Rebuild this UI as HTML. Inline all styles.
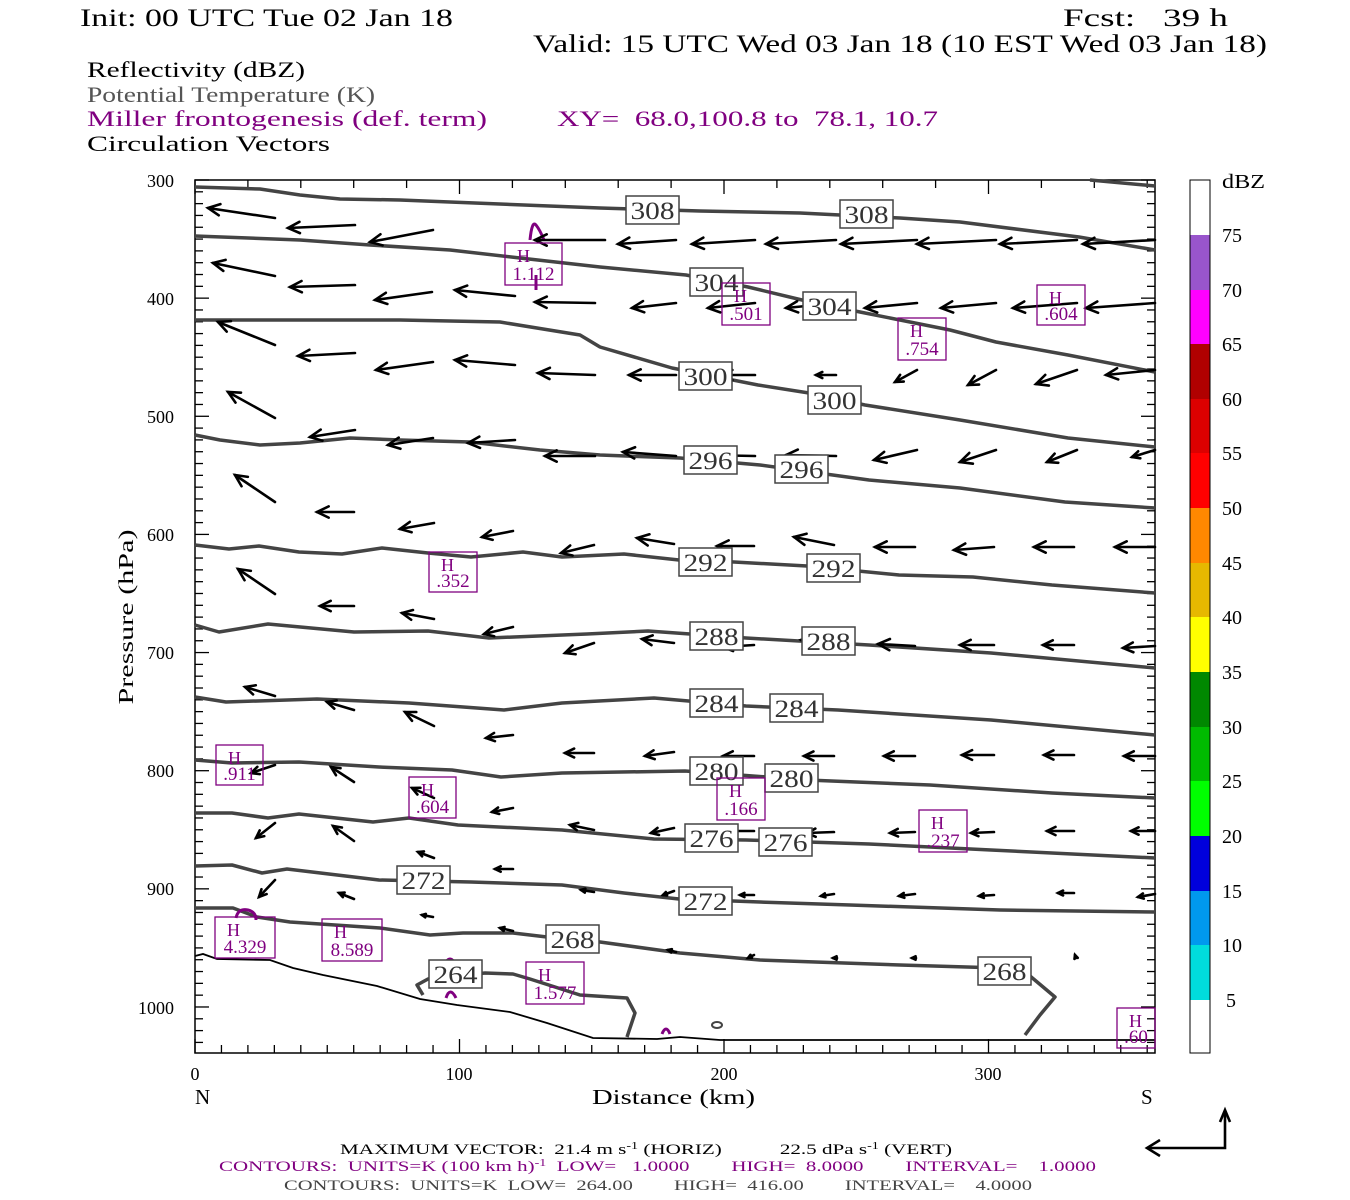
<!DOCTYPE html>
<html><head><meta charset="utf-8"><style>
body{margin:0;background:#fff;}
svg{display:block;font-family:"Liberation Serif",serif;}
</style></head><body>
<svg id="s" width="1350" height="1200" viewBox="0 0 1350 1200" xmlns="http://www.w3.org/2000/svg">
<rect width="1350" height="1200" fill="#fff"/>
<g font-size="25" fill="#000">
<text x="80" y="26" textLength="373" lengthAdjust="spacingAndGlyphs">Init: 00 UTC Tue 02 Jan 18</text>
<text x="1063" y="26" textLength="165" lengthAdjust="spacingAndGlyphs">Fcst:&#160;&#160;&#160;39 h</text>
<text x="533" y="52" textLength="734" lengthAdjust="spacingAndGlyphs">Valid: 15 UTC Wed 03 Jan 18 (10 EST Wed 03 Jan 18)</text>
</g>
<g font-size="22">
<text x="87" y="77" textLength="218" lengthAdjust="spacingAndGlyphs">Reflectivity (dBZ)</text>
<text x="87" y="102" fill="#555" textLength="288" lengthAdjust="spacingAndGlyphs">Potential Temperature (K)</text>
<text x="87" y="126" fill="#800080" textLength="400" lengthAdjust="spacingAndGlyphs">Miller frontogenesis (def. term)</text>
<text x="557" y="126" fill="#800080" textLength="381" lengthAdjust="spacingAndGlyphs">XY=&#160;&#160;68.0,100.8 to&#160;&#160;78.1, 10.7</text>
<text x="87" y="151" textLength="243" lengthAdjust="spacingAndGlyphs">Circulation Vectors</text>
</g>
<!-- colorbar -->
<g stroke="none">
<rect x="1190" y="180" width="20" height="55" fill="#fff"/>
<rect x="1190" y="235" width="20" height="55" fill="#9955cc"/>
<rect x="1190" y="290" width="20" height="54" fill="#ff00ff"/>
<rect x="1190" y="344" width="20" height="55" fill="#b00000"/>
<rect x="1190" y="399" width="20" height="54" fill="#dd0000"/>
<rect x="1190" y="453" width="20" height="55" fill="#ff0000"/>
<rect x="1190" y="508" width="20" height="55" fill="#ff8800"/>
<rect x="1190" y="563" width="20" height="54" fill="#e6b800"/>
<rect x="1190" y="617" width="20" height="55" fill="#ffff00"/>
<rect x="1190" y="672" width="20" height="55" fill="#008800"/>
<rect x="1190" y="727" width="20" height="54" fill="#00bb00"/>
<rect x="1190" y="781" width="20" height="55" fill="#00ff00"/>
<rect x="1190" y="836" width="20" height="55" fill="#0000dd"/>
<rect x="1190" y="891" width="20" height="54" fill="#0099ee"/>
<rect x="1190" y="945" width="20" height="55" fill="#00dddd"/>
<rect x="1190" y="1000" width="20" height="53" fill="#fff"/>
<rect x="1190" y="180" width="20" height="873" fill="none" stroke="#000" stroke-width="1"/>
</g>
<g font-size="20" fill="#000">
<text x="1222" y="188" textLength="43" lengthAdjust="spacingAndGlyphs">dBZ</text>
<text x="1222" y="242">75</text><text x="1222" y="297">70</text><text x="1222" y="351">65</text>
<text x="1222" y="406">60</text><text x="1222" y="460">55</text><text x="1222" y="515">50</text>
<text x="1222" y="570">45</text><text x="1222" y="624">40</text><text x="1222" y="679">35</text>
<text x="1222" y="734">30</text><text x="1222" y="788">25</text><text x="1222" y="843">20</text>
<text x="1222" y="898">15</text><text x="1222" y="952">10</text><text x="1226" y="1007">5</text>
</g>
<!-- axes -->
<g id="ticks" stroke="#000" stroke-width="1.3"></g>
<rect x="195" y="180" width="960" height="873" fill="none" stroke="#000" stroke-width="1.5"/>
<g font-size="18" text-anchor="end">
<text x="174" y="187">300</text><text x="174" y="305">400</text><text x="174" y="423">500</text>
<text x="174" y="541">600</text><text x="174" y="659">700</text><text x="174" y="777">800</text>
<text x="174" y="895">900</text><text x="174" y="1014">1000</text>
</g>
<text x="133" y="617" font-size="21" text-anchor="middle" transform="rotate(-90 133 617)" textLength="175" lengthAdjust="spacingAndGlyphs">Pressure (hPa)</text>
<g font-size="18" text-anchor="middle">
<text x="195" y="1080">0</text><text x="459" y="1080">100</text><text x="724" y="1080">200</text><text x="988" y="1080">300</text>
</g>
<g font-size="21">
<text x="195" y="1104">N</text><text x="1141" y="1104">S</text>
<text x="592" y="1104" textLength="163" lengthAdjust="spacingAndGlyphs">Distance (km)</text>
</g>
<!-- contours -->
<g fill="none" stroke="#444" stroke-width="3.5" stroke-linejoin="round">
<polyline points="195,187 260,189 300,195 340,199 400,200 600,208 700,211 800,213 900,218 960,222 1079,237 1155,250"/>
<polyline points="1090,180 1155,186"/>
<polyline points="195,236 300,240 370,245 450,250 520,258 600,267 686,275 748,287 802,300 860,312 950,330 996,342 1068,355 1155,372"/>
<polyline points="195,320 300,320 400,320 500,322 580,335 600,347 672,368 758,385 809,393 865,405 960,420 1068,438 1155,447"/>
<polyline points="195,435 220,440 260,445 300,443 350,438 400,440 470,442 540,450 600,455 680,458 760,465 869,480 960,488 1065,502 1155,508"/>
<polyline points="195,545 229,549 259,546 299,552 342,554 382,548 428,553 471,557 523,552 562,557 624,554 679,560 734,562 807,566 899,575 973,577 1052,585 1155,593"/>
<polyline points="195,625 219,632 268,624 354,632 428,631 489,638 587,634 648,631 746,638 869,645 991,653 1155,668"/>
<polyline points="195,697 226,702 317,699 409,703 504,710 562,703 654,698 746,706 838,710 991,720 1155,735"/>
<polyline points="195,760 232,763 299,762 379,767 452,770 501,777 562,773 685,771 807,780 930,785 1052,793 1155,798"/>
<polyline points="195,813 232,813 268,818 299,814 373,822 409,818 458,825 562,830 654,839 746,840 869,844 991,850 1155,858"/>
<polyline points="195,866 232,865 262,873 287,869 379,880 471,882 562,885 624,893 679,899 760,902 850,905 1000,910 1155,912"/>
<polyline points="195,908 233,908 257,917 290,922 380,928 430,935 463,933 513,933 547,937 600,942 680,953 760,960 900,965 1000,968 1030,976 1055,997 1040,1015 1025,1035"/>
<polyline points="423,995 417,985 428,979 485,973 513,974 530,979 580,995 627,998 635,1013 627,1037"/>
</g>
<polyline fill="none" stroke="#000" stroke-width="1.8" points="195,956 203,954 217,959 270,960 293,968 323,975 377,986 420,999 457,1005 510,1012 547,1023 593,1038 657,1039 680,1037 720,1040 1155,1040"/>
<!-- purple small features -->
<g fill="none" stroke="#800080" stroke-width="3">
<path d="M236,918 q2,-10 12,-8 q8,2 8,10"/>
<path d="M530,240 q2,-20 6,-15 q4,5 8,15"/>
<path d="M536,275 v15"/>
<path d="M446,998 q4,-12 10,0"/>
<path d="M446,962 q4,-6 8,0"/>
<path d="M662,1034 q4,-10 8,0"/>
</g>
<ellipse cx="717" cy="1025" rx="5" ry="3" fill="none" stroke="#444" stroke-width="2"/>
<!-- arrows -->
<g id="arr" stroke="#000" stroke-width="2.6" fill="none" stroke-linecap="round"></g>
<!-- contour labels -->
<g id="lab"></g>
<g id="hbox"></g>
<!-- bottom text -->
<g font-size="15" font-family="Liberation Serif,serif">
<text x="340" y="1154" textLength="612" lengthAdjust="spacingAndGlyphs">MAXIMUM VECTOR:&#160; 21.4 m s<tspan dy="-5" font-size="10">-1</tspan><tspan dy="5"> (HORIZ)&#160;&#160;&#160;&#160;&#160;&#160;&#160;&#160;&#160;&#160; 22.5 dPa s</tspan><tspan dy="-5" font-size="10">-1</tspan><tspan dy="5"> (VERT)</tspan></text>
<text x="219" y="1171" fill="#800080" textLength="877" lengthAdjust="spacingAndGlyphs">CONTOURS:&#160; UNITS=K (100 km h)<tspan dy="-5" font-size="10">-1</tspan><tspan dy="5">&#160; LOW=&#160;&#160; 1.0000&#160;&#160;&#160;&#160;&#160;&#160;&#160; HIGH=&#160; 8.0000&#160;&#160;&#160;&#160;&#160;&#160;&#160; INTERVAL=&#160;&#160;&#160; 1.0000</tspan></text>
<text x="284" y="1190" fill="#444" textLength="748" lengthAdjust="spacingAndGlyphs">CONTOURS:&#160; UNITS=K&#160; LOW=&#160; 264.00&#160;&#160;&#160;&#160;&#160;&#160;&#160; HIGH=&#160; 416.00&#160;&#160;&#160;&#160;&#160;&#160;&#160; INTERVAL=&#160;&#160;&#160; 4.0000</text>
</g>
<g stroke="#000" stroke-width="2.6" fill="none">
<polyline points="1225,1112 1225,1148 1147,1148"/>
<polyline points="1160,1140 1147,1148 1160,1156"/>
<polyline points="1220,1122 1225,1110 1230,1122"/>
</g>
<script>
(function(){
var NS="http://www.w3.org/2000/svg";
function el(p,t,a,txt){var e=document.createElementNS(NS,t);for(var k in a)e.setAttribute(k,a[k]);if(txt!=null)e.textContent=txt;p.appendChild(e);return e;}
var T=document.getElementById("ticks");
for(var p=300;p<=1030;p+=10){var y=180+(p-300)*1.1814;var L=(p%100==0)?14:8;
el(T,"line",{x1:195,y1:y,x2:195+L,y2:y});el(T,"line",{x1:1155,y1:y,x2:1155-L,y2:y});}
for(var d=0;d<=360;d+=10){var x=195+d*2.645;var L=(d%100==0)?14:8;el(T,"line",{x1:x,y1:1053,x2:x,y2:1053-L});}
for(var d=0;d<=360;d+=20){var x=195+d*2.645;var L=(d%100==0)?14:8;el(T,"line",{x1:x,y1:180,x2:x,y2:180+L});}
var A=[[208,208,275,218],[288,228,355,225],[370,242,433,230],[535,240,605,240],
[213,263,275,276],[290,287,355,285],[375,300,432,292],[455,290,515,296],[535,302,595,303],
[218,322,275,345],[298,356,355,353],[376,370,433,362],[455,360,515,365],[538,373,595,375],
[228,392,275,418],[310,437,355,430],[388,445,433,438],[468,443,515,440],[545,456,595,456],
[235,475,275,502],[317,512,354,512],[400,529,434,523],[482,537,513,531],
[238,569,275,594]];
var r1h=[618,692,766,841,917,1000,1083],r1t=[676,755,836,917,996,1077,1155];
for(var i=0;i<7;i++)A.push([r1h[i],244,r1t[i],240]);
var r2h=[632,708,786,865,941,1013,1086];
for(var i=0;i<7;i++)A.push([r2h[i],308,r1t[i],303]);
var r3h=[629,722,816,895,968,1036,1106],r3y=[375,375,375,382,385,384,375];
for(var i=0;i<7;i++)A.push([r3h[i],r3y[i],r1t[i],i<3?375:370]);
var r4h=[623,703,786,874,960,1047,1132],r4y=[452,455,455,460,462,462,457];
for(var i=0;i<7;i++)A.push([r4h[i],r4y[i],r1t[i],i<3?456:450]);
A=A.concat([[561,553,594,545],[637,538,674,544],[717,546,754,546],[794,537,834,545],[875,547,915,547],[954,550,994,547],[1034,547,1074,547],[1115,547,1155,547],
[320,606,354,606],[402,613,434,619],[484,634,513,627],[565,653,594,643],[642,639,674,643],[723,647,754,645],[801,640,834,645],[878,644,915,646],[960,645,994,645],[1043,645,1074,645],[1123,648,1155,646],
[245,687,275,696],[327,702,354,710],[405,712,434,726],[486,738,513,735],
[565,753,594,753],[645,756,674,752],[723,756,754,756],[804,756,834,756],[884,756,915,756],[962,755,994,755],[1044,755,1074,755],[1124,756,1155,756],
[251,773,275,765],[331,767,354,782],[412,788,434,798],[492,812,513,808],
[256,838,275,823],[333,826,354,841],[570,825,594,830],[651,833,674,828],[728,831,754,831],[807,833,834,832],[890,833,915,832],[971,833,994,832],[1047,831,1074,831],[1131,831,1155,831],
[418,852,434,858],[495,869,513,869],[259,897,275,880],[339,893,354,899],
[581,890,594,892],[663,895,674,891],[740,895,754,895],[821,896,834,894],[899,896,915,894],[979,896,994,895],[1058,893,1074,893],[1138,897,1155,894],
[422,915,433,917],[500,928,513,931],[580,948,590,950],[668,950,676,952],[748,958,754,955],[833,958,837,958],[912,958,916,958],[1075,955,1076,958]]);
var G=document.getElementById("arr");
A.forEach(function(a){var hx=a[0],hy=a[1],tx=a[2],ty=a[3];var dx=tx-hx,dy=ty-hy,l=Math.sqrt(dx*dx+dy*dy)||1;
var ux=dx/l,uy=dy/l,h=Math.min(13,Math.max(4,l*0.35)),c=Math.cos(0.45),s=Math.sin(0.45);
var b1x=hx+h*(ux*c-uy*s),b1y=hy+h*(uy*c+ux*s),b2x=hx+h*(ux*c+uy*s),b2y=hy+h*(uy*c-ux*s);
el(G,"line",{x1:tx,y1:ty,x2:hx,y2:hy});
el(G,"polyline",{points:b1x+","+b1y+" "+hx+","+hy+" "+b2x+","+b2y});});
var Lb=[["308",626,196],["308",840,200],["304",690,268],["304",803,292],["300",679,362],["300",808,386],["296",684,446],["296",775,455],["292",679,548],["292",807,554],["288",690,622],["288",802,627],["284",690,689],["284",770,694],["280",690,757],["280",765,764],["276",685,824],["276",759,828],["272",397,866],["272",679,887],["268",546,925],["268",978,957],["264",429,960]];
var LG=document.getElementById("lab");
Lb.forEach(function(b){el(LG,"rect",{x:b[1],y:b[2],width:53,height:28,fill:"#fff",stroke:"#444","stroke-width":1.5});
el(LG,"text",{x:b[1]+26.5,y:b[2]+23,"font-size":25,"text-anchor":"middle",fill:"#333",textLength:44,lengthAdjust:"spacingAndGlyphs"},b[0]);});
var H=[["1.112",505,243,57,42],[".501",722,283,48,42],[".604",1037,285,48,40],[".754",898,318,48,42],[".352",429,552,48,40],[".911",216,745,47,40],[".604",409,777,47,41],[".166",717,778,48,42],[".237",919,810,48,42],["4.329",215,917,60,41],["8.589",322,919,60,42],["1.577",526,962,58,42],[".60",1117,1008,38,40]];
var HG=document.getElementById("hbox");
H.forEach(function(b){el(HG,"rect",{x:b[1],y:b[2],width:b[3],height:b[4],fill:"none",stroke:"#800080","stroke-width":1.3});
el(HG,"text",{x:b[1]+12,y:b[2]+19,"font-size":18,fill:"#800080"},"H");
el(HG,"text",{x:b[1]+b[3]/2,y:b[2]+b[4]-5,"font-size":19,"text-anchor":"middle",fill:"#800080"},b[0]);});
})();
</script>
</svg>
</body></html>
